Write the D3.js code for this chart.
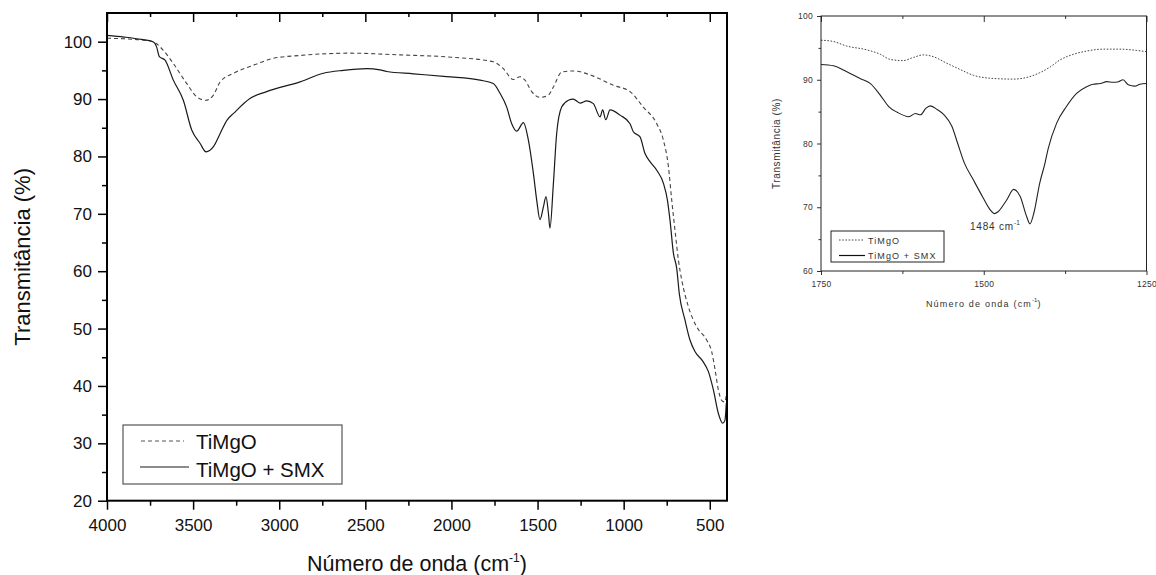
<!DOCTYPE html>
<html>
<head>
<meta charset="utf-8">
<script src="https://cdn.jsdelivr.net/npm/d3@7"></script>
<style>
  html, body { margin: 0; padding: 0; background: #fff; }
  svg { display: block; font-family: "Liberation Sans", Arial, sans-serif; }
</style>
</head>
<body>
<div id="chart"></div>
<script>
// ---- main spectrum, TiMgO (dashed)
const tiMgOWn = [4000, 3900, 3800, 3733, 3673, 3615, 3537, 3479, 3427, 3382, 3343, 3265, 3150, 3034, 2879, 2589, 2300, 2000, 1757, 1699, 1641, 1602, 1573, 1534, 1486, 1437, 1408, 1360, 1293, 1176, 1060, 963, 886, 808, 769, 740, 721, 700, 682, 663, 624, 576, 518, 489, 469, 450, 431, 412, 404];
const tiMgOT = [100.6, 100.5, 100.3, 100.0, 98.5, 96.2, 92.7, 90.4, 89.8, 90.7, 93.0, 94.5, 95.9, 97.1, 97.6, 98.0, 97.7, 97.3, 96.5, 95.3, 93.4, 93.9, 93.3, 91.3, 90.3, 90.7, 92.1, 94.7, 94.9, 94.0, 92.4, 91.3, 88.6, 85.7, 82.8, 78.2, 72.4, 66.6, 61.9, 58.5, 53.8, 50.3, 48.0, 46.0, 42.8, 39.3, 37.5, 37.2, 38.5];

// ---- main spectrum, TiMgO + SMX (solid)
const smxWn = [4000, 3900, 3800, 3733, 3712, 3696, 3663, 3615, 3557, 3508, 3460, 3425, 3382, 3343, 3304, 3265, 3170, 3073, 2879, 2744, 2628, 2492, 2415, 2376, 2221, 2028, 1834, 1757, 1718, 1679, 1650, 1621, 1582, 1553, 1524, 1505, 1486, 1466, 1451, 1437, 1428, 1408, 1389, 1360, 1321, 1293, 1253, 1215, 1176, 1137, 1122, 1104, 1079, 1021, 963, 944, 905, 876, 847, 808, 769, 746, 731, 711, 692, 677, 644, 615, 586, 538, 508, 479, 450, 425, 412, 404];
const smxT = [101.1, 100.8, 100.4, 100.0, 99.1, 97.4, 96.8, 93.3, 89.8, 84.6, 82.3, 80.8, 81.7, 84.0, 86.3, 87.5, 90.1, 91.3, 93.0, 94.5, 95.0, 95.3, 95.1, 94.8, 94.4, 93.9, 93.3, 92.7, 91.0, 88.6, 85.7, 84.4, 85.9, 82.8, 77.0, 72.4, 69.0, 71.2, 73.0, 70.1, 67.5, 75.3, 84.0, 88.6, 89.8, 90.0, 89.3, 89.7, 89.2, 86.9, 88.1, 86.4, 88.1, 87.2, 85.7, 84.3, 83.4, 80.5, 79.1, 77.6, 75.3, 72.4, 68.9, 63.1, 60.5, 56.1, 51.5, 48.0, 46.0, 44.2, 42.5, 39.3, 35.2, 33.5, 34.0, 37.0];

// ---- inset (1750-1250 cm-1)
const insetTiMgOWn = [1750, 1731, 1711, 1680, 1659, 1644, 1624, 1608, 1593, 1577, 1557, 1536, 1516, 1485, 1455, 1429, 1414, 1398, 1383, 1362, 1342, 1316, 1291, 1265, 1250];
const insetTiMgOT = [96.2, 96.0, 95.3, 94.7, 94.0, 93.2, 93.0, 93.5, 93.9, 93.6, 92.6, 91.6, 90.7, 90.2, 90.1, 90.5, 91.1, 92.0, 93.1, 94.0, 94.5, 94.8, 94.8, 94.6, 94.4];
const insetSmxWn = [1750, 1731, 1711, 1690, 1674, 1659, 1646, 1633, 1615, 1605, 1597, 1589, 1582, 1571, 1561, 1549, 1540, 1530, 1516, 1501, 1490, 1484, 1478, 1465, 1454, 1444, 1434, 1429, 1423, 1414, 1406, 1401, 1388, 1373, 1357, 1342, 1332, 1321, 1311, 1301, 1293, 1286, 1278, 1268, 1260, 1250];
const insetSmxT = [92.4, 92.2, 91.3, 90.2, 89.4, 87.6, 85.8, 84.9, 84.2, 84.7, 84.5, 85.5, 85.9, 85.3, 84.5, 82.7, 80.0, 77.0, 74.3, 71.5, 69.6, 69.0, 69.3, 71.1, 72.8, 71.7, 68.5, 67.4, 69.1, 73.8, 76.9, 79.2, 83.2, 85.8, 87.9, 88.9, 89.3, 89.4, 89.7, 89.6, 89.7, 90.0, 89.2, 89.0, 89.3, 89.4];

// ticks / labels
const mainXTicks = [4000, 3500, 3000, 2500, 2000, 1500, 1000, 500];
const mainXMinor = [3750, 3250, 2750, 2250, 1750, 1250, 750];
const mainYTicks = [20, 30, 40, 50, 60, 70, 80, 90, 100];
const mainYMinor = [25, 35, 45, 55, 65, 75, 85, 95];
const insetXTicks = [1750, 1500, 1250];
const insetXMinor = [1625, 1375];
const insetYTicks = [60, 70, 80, 90, 100];
const insetYMinor = [65, 75, 85, 95];
const seriesNames = ["TiMgO", "TiMgO + SMX"];
const peakLabel = "1484";

const width = 1156, height = 575;
const svg = d3.select("#chart").append("svg").attr("width", width).attr("height", height);

function zip(a, b) { return a.map((v, i) => [v, b[i]]); }

function drawAxis(g, axis, stroke) {
    g.call(axis);
    g.select(".domain").remove();
    g.selectAll(".tick line").attr("stroke", stroke);
}

// ================= main chart =================
const x = d3.scaleLinear().domain([4000, 400]).range([107, 727]);
const y = d3.scaleLinear().domain([20, 105]).range([500.7, 13]);

const main = svg.append("g");
const line = d3.line().x(d => x(d[0])).y(d => y(d[1])).curve(d3.curveMonotoneX);

main.append("path").datum(zip(tiMgOWn, tiMgOT))
    .attr("d", line).attr("fill", "none").attr("stroke", "#444").attr("stroke-width", 1.1).attr("stroke-dasharray", "4,3");
main.append("path").datum(zip(smxWn, smxT))
    .attr("d", line).attr("fill", "none").attr("stroke", "#1a1a1a").attr("stroke-width", 1.2);

// axes
const bottom = main.append("g").attr("transform", "translate(0," + y(20) + ")");
drawAxis(bottom, d3.axisBottom(x).tickValues(mainXTicks).tickSizeInner(9).tickSizeOuter(0).tickPadding(9).tickFormat(d3.format("d")), "#000");
bottom.selectAll(".tick text").attr("font-size", 17).attr("font-family", "Liberation Sans, Arial, sans-serif").attr("fill", "#111");
drawAxis(main.append("g").attr("transform", "translate(0," + y(20) + ")"),
    d3.axisBottom(x).tickValues(mainXMinor).tickSizeInner(5).tickSizeOuter(0).tickFormat(""), "#000");
drawAxis(main.append("g").attr("transform", "translate(0," + y(105) + ")"),
    d3.axisTop(x).tickValues(mainXTicks).tickSizeInner(-9).tickSizeOuter(0).tickFormat(""), "#000");
drawAxis(main.append("g").attr("transform", "translate(0," + y(105) + ")"),
    d3.axisTop(x).tickValues(mainXMinor).tickSizeInner(-4).tickSizeOuter(0).tickFormat(""), "#000");

const left = main.append("g").attr("transform", "translate(" + x(4000) + ",0)");
drawAxis(left, d3.axisLeft(y).tickValues(mainYTicks).tickSizeInner(9).tickSizeOuter(0).tickPadding(6), "#000");
left.selectAll(".tick text").attr("font-size", 17).attr("font-family", "Liberation Sans, Arial, sans-serif").attr("fill", "#111");
drawAxis(main.append("g").attr("transform", "translate(" + x(4000) + ",0)"),
    d3.axisLeft(y).tickValues(mainYMinor).tickSizeInner(5).tickSizeOuter(0).tickFormat(""), "#000");
main.selectAll(".tick line").attr("stroke-width", 1.5);

main.append("rect")
    .attr("x", x(4000)).attr("y", y(105))
    .attr("width", x(400) - x(4000)).attr("height", y(20) - y(105))
    .attr("fill", "none").attr("stroke", "#000").attr("stroke-width", 2);

// axis titles
main.append("text")
    .attr("transform", "translate(30," + ((y(20) + y(105)) / 2) + ") rotate(-90)")
    .attr("text-anchor", "middle").attr("font-size", 22).attr("fill", "#111")
    .text("Transmitância (%)");
const xt = main.append("text")
    .attr("x", (x(4000) + x(400)) / 2).attr("y", 571)
    .attr("text-anchor", "middle").attr("font-size", 21.5).attr("fill", "#111");
xt.append("tspan").text("Número de onda (cm");
xt.append("tspan").attr("dy", -9).attr("font-size", 12).text("-1");
xt.append("tspan").attr("dy", 9).text(")");

// legend
const leg = main.append("g");
leg.append("rect").attr("x", 123).attr("y", 425).attr("width", 219).attr("height", 59)
    .attr("fill", "#fff").attr("stroke", "#555").attr("stroke-width", 1.2);
leg.append("line").attr("x1", 141).attr("x2", 184).attr("y1", 441).attr("y2", 441)
    .attr("stroke", "#555").attr("stroke-width", 1.1).attr("stroke-dasharray", "4,3");
leg.append("line").attr("x1", 140).attr("x2", 189).attr("y1", 467).attr("y2", 467)
    .attr("stroke", "#1a1a1a").attr("stroke-width", 1.2);
leg.append("text").attr("x", 196).attr("y", 449).attr("font-size", 20.5).attr("fill", "#111").text(seriesNames[0]);
leg.append("text").attr("x", 196).attr("y", 477).attr("font-size", 20.5).attr("fill", "#111").text(seriesNames[1]);

// ================= inset =================
const xi = d3.scaleLinear().domain([1750, 1250]).range([821, 1146.5]);
const yi = d3.scaleLinear().domain([60, 100]).range([271, 16]);
const inset = svg.append("g");
const lineI = d3.line().x(d => xi(d[0])).y(d => yi(d[1])).curve(d3.curveMonotoneX);
const insetInk = "#333";

inset.append("path").datum(zip(insetTiMgOWn, insetTiMgOT))
    .attr("d", lineI).attr("fill", "none").attr("stroke", "#444").attr("stroke-width", 1).attr("stroke-dasharray", "1.6,1.6");
inset.append("path").datum(zip(insetSmxWn, insetSmxT))
    .attr("d", lineI).attr("fill", "none").attr("stroke", "#222").attr("stroke-width", 1.1);

const ib = inset.append("g").attr("transform", "translate(0," + yi(60) + ")");
drawAxis(ib, d3.axisBottom(xi).tickValues(insetXTicks).tickSizeInner(4).tickSizeOuter(0).tickPadding(6).tickFormat(d3.format("d")), insetInk);
drawAxis(inset.append("g").attr("transform", "translate(0," + yi(60) + ")"),
    d3.axisBottom(xi).tickValues(insetXMinor).tickSizeInner(3).tickSizeOuter(0).tickFormat(""), insetInk);
drawAxis(inset.append("g").attr("transform", "translate(0," + yi(100) + ")"),
    d3.axisTop(xi).tickValues(insetXTicks).tickSizeInner(-6).tickSizeOuter(0).tickFormat(""), insetInk);
drawAxis(inset.append("g").attr("transform", "translate(0," + yi(100) + ")"),
    d3.axisTop(xi).tickValues(insetXMinor).tickSizeInner(-3).tickSizeOuter(0).tickFormat(""), insetInk);
const il = inset.append("g").attr("transform", "translate(" + xi(1750) + ",0)");
drawAxis(il, d3.axisLeft(yi).tickValues(insetYTicks).tickSizeInner(4).tickSizeOuter(0).tickPadding(4), insetInk);
drawAxis(inset.append("g").attr("transform", "translate(" + xi(1750) + ",0)"),
    d3.axisLeft(yi).tickValues(insetYMinor).tickSizeInner(2.5).tickSizeOuter(0).tickFormat(""), insetInk);
inset.selectAll(".tick text").attr("font-size", 8.5).attr("font-family", "Liberation Sans, Arial, sans-serif").attr("fill", insetInk).attr("letter-spacing", 0.3);

inset.append("rect")
    .attr("x", xi(1750)).attr("y", yi(100))
    .attr("width", xi(1250) - xi(1750)).attr("height", yi(60) - yi(100))
    .attr("fill", "none").attr("stroke", "#222").attr("stroke-width", 1);

inset.append("text")
    .attr("transform", "translate(780," + ((yi(60) + yi(100)) / 2) + ") rotate(-90)")
    .attr("text-anchor", "middle").attr("font-size", 10).attr("letter-spacing", 0.6).attr("fill", insetInk)
    .text("Transmitância (%)");
const xti = inset.append("text")
    .attr("x", (xi(1750) + xi(1250)) / 2).attr("y", 307)
    .attr("text-anchor", "middle").attr("font-size", 9).attr("letter-spacing", 1.2).attr("fill", insetInk);
xti.append("tspan").text("Número de onda (cm");
xti.append("tspan").attr("dy", -5).attr("font-size", 6).attr("letter-spacing", 0).text("-1");
xti.append("tspan").attr("dy", 5).text(")");

// peak annotation
const ann = inset.append("text").attr("x", 970).attr("y", 230)
    .attr("font-size", 10).attr("letter-spacing", 0.8).attr("fill", insetInk);
ann.append("tspan").text(peakLabel + " cm");
ann.append("tspan").attr("dy", -5).attr("font-size", 6.5).attr("letter-spacing", 0).text("-1");

// inset legend
const legI = inset.append("g");
legI.append("rect").attr("x", 831).attr("y", 231).attr("width", 113).attr("height", 31)
    .attr("fill", "#fff").attr("stroke", "#222").attr("stroke-width", 1);
legI.append("line").attr("x1", 839).attr("x2", 864).attr("y1", 240).attr("y2", 240)
    .attr("stroke", "#444").attr("stroke-width", 1).attr("stroke-dasharray", "1.6,1.6");
legI.append("line").attr("x1", 839).attr("x2", 865).attr("y1", 255.5).attr("y2", 255.5)
    .attr("stroke", "#111").attr("stroke-width", 1.2);
legI.append("text").attr("x", 868).attr("y", 243.5).attr("font-size", 9).attr("letter-spacing", 1.1).attr("fill", insetInk).text(seriesNames[0]);
legI.append("text").attr("x", 868).attr("y", 259).attr("font-size", 9).attr("letter-spacing", 1.1).attr("fill", insetInk).text(seriesNames[1]);
</script>
</body>
</html>
